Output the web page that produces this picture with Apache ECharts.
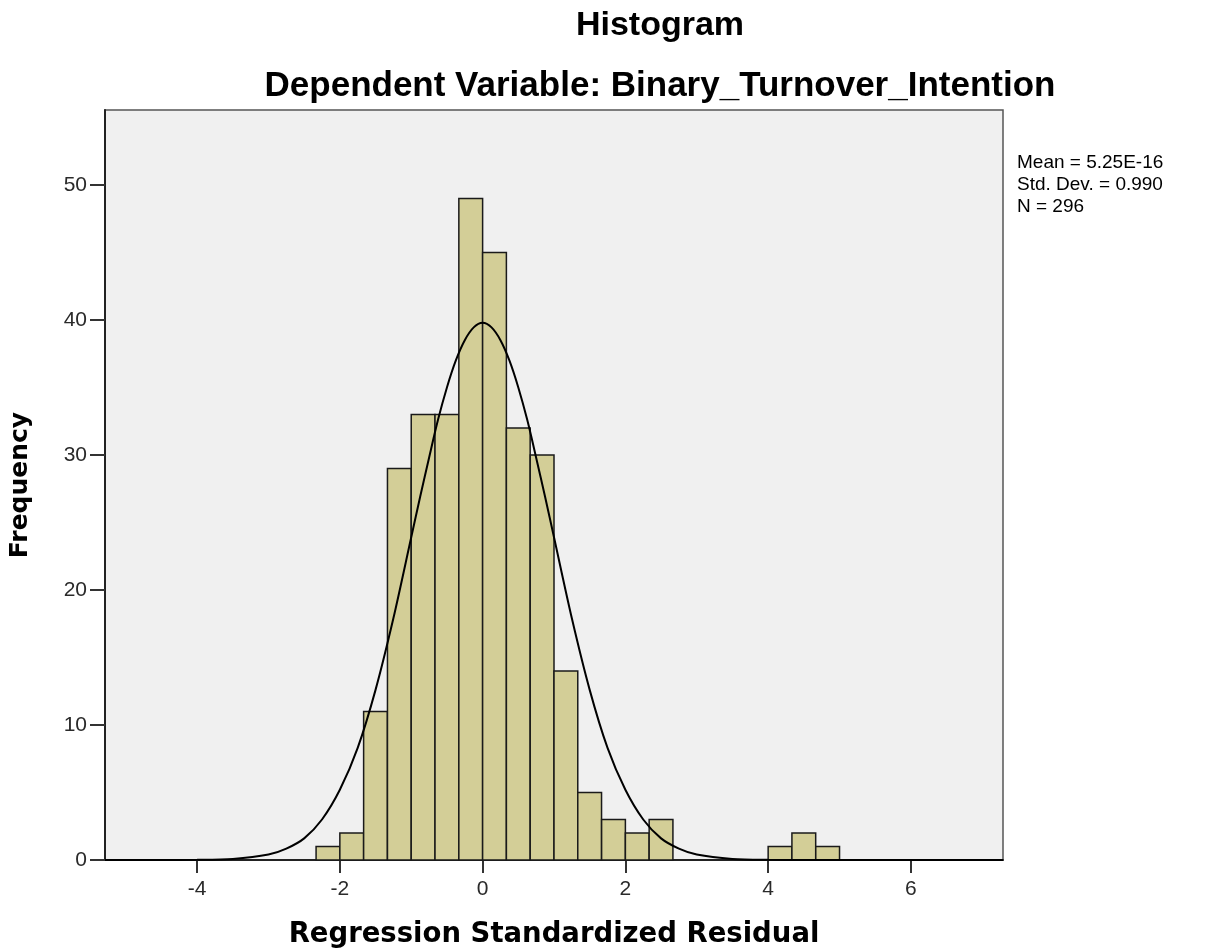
<!DOCTYPE html>
<html>
<head>
    <meta charset="utf-8">
    <title>Histogram</title>
    <style>
        html, body { margin: 0; padding: 0; background: #fff; }
    </style>
</head>
<body>
    <div id="main" style="width: 1215px;height:952px;"></div>
    <script src="https://cdn.jsdelivr.net/npm/echarts@6/dist/echarts.min.js" charset="utf-8"></script>
    <script>
    // bins (left edge) and counts
    var binStart = [-2.333, -2, -1.667, -1.333, -1, -0.667, -0.333, 0, 0.333, 0.667, 1, 1.333, 1.667, 2, 2.333, 4, 4.333, 4.667];
    var binWidth = 0.333;
    var counts = [1, 2, 11, 29, 33, 33, 49, 45, 32, 30, 14, 5, 3, 2, 3, 1, 2, 1];

    // normal curve
    var curveX = [-5.29, -4.5, -4, -3.5, -3, -2.75, -2.5, -2.25, -2, -1.75, -1.5, -1.25, -1, -0.875, -0.75, -0.625, -0.5, -0.375, -0.25, -0.125, 0,
                  0.125, 0.25, 0.375, 0.5, 0.625, 0.75, 0.875, 1, 1.25, 1.5, 1.75, 2, 2.25, 2.5, 2.75, 3, 3.5, 4, 4.5, 5, 6, 7.29];
    var curveY = [0, 0, 0.01, 0.08, 0.4, 0.84, 1.6, 3.0, 5.2, 8.3, 12.6, 17.9, 23.9, 26.9, 29.8, 32.6, 35.0, 37.0, 38.5, 39.45, 39.8,
                  39.45, 38.5, 37.0, 35.0, 32.6, 29.8, 26.9, 23.9, 17.9, 12.6, 8.3, 5.2, 3.0, 1.6, 0.84, 0.4, 0.08, 0.01, 0, 0, 0, 0];

    var xTicks = [-4, -2, 0, 2, 4, 6];
    var yTicks = [0, 10, 20, 30, 40, 50];
    var statLines = ['Mean = 5.25E-16', 'Std. Dev. = 0.990', 'N = 296'];

    var barData = binStart.map(function (s, i) { return [s, s + binWidth, counts[i]]; });
    var lineData = curveX.map(function (x, i) { return [x, curveY[i]]; });

    var myChart = echarts.init(document.getElementById('main'));
    var option = {
        animation: false,
        backgroundColor: '#ffffff',
        grid: {
            left: 105, right: 212, top: 110, bottom: 92,
            outerBoundsMode: 'none',
            containLabel: false,
            show: true,
            backgroundColor: '#f0f0f0',
            borderColor: '#555555',
            borderWidth: 1.5
        },
        graphic: [
            {
                type: 'text', x: 660, y: 26,
                style: { text: 'Histogram', fill: '#000', font: 'bold 34px "Liberation Sans", Arial', textAlign: 'center', textVerticalAlign: 'middle' }
            },
            {
                type: 'text', x: 660, y: 86,
                style: { text: 'Dependent Variable: Binary_Turnover_Intention', fill: '#000', font: 'bold 35px "Liberation Sans", Arial', textAlign: 'center', textVerticalAlign: 'middle' }
            },
            {
                type: 'text', x: 1017, y: 152,
                style: { text: statLines.join('\n'), fill: '#000', font: '19px "Liberation Sans", Arial', lineHeight: 22 }
            }
        ],
        xAxis: {
            type: 'value',
            min: -5.29, max: 7.29,
            name: 'Regression Standardized Residual',
            nameLocation: 'middle',
            nameGap: 61,
            nameTextStyle: { fontFamily: 'DejaVu Sans', fontWeight: 'bold', fontSize: 27.5, color: '#000' },
            axisLine: { show: true, onZero: false, lineStyle: { color: '#222', width: 2 } },
            axisTick: { show: true, customValues: xTicks, length: 13, lineStyle: { color: '#333', width: 2 } },
            axisLabel: { customValues: xTicks, fontFamily: '"Liberation Sans", Arial', fontSize: 21, color: '#2a2a2a', margin: 19 },
            splitLine: { show: false }
        },
        yAxis: {
            type: 'value',
            min: 0, max: 55.55,
            name: 'Frequency',
            nameLocation: 'middle',
            nameGap: 72,
            nameRotate: 90,
            nameTextStyle: { fontFamily: 'DejaVu Sans', fontWeight: 'bold', fontSize: 25, color: '#000' },
            axisLine: { show: true, onZero: false, lineStyle: { color: '#222', width: 2 } },
            axisTick: { show: true, customValues: yTicks, length: 15, lineStyle: { color: '#333', width: 2 } },
            axisLabel: { customValues: yTicks, fontFamily: '"Liberation Sans", Arial', fontSize: 21, color: '#2a2a2a', margin: 18 },
            splitLine: { show: false }
        },
        series: [
            {
                type: 'custom',
                data: barData,
                renderItem: function (params, api) {
                    var p0 = api.coord([api.value(0), api.value(2)]);
                    var p1 = api.coord([api.value(1), 0]);
                    return {
                        type: 'rect',
                        shape: { x: p0[0], y: p0[1], width: p1[0] - p0[0], height: p1[1] - p0[1] },
                        style: { fill: '#d3ce97', stroke: '#1a1a1a', lineWidth: 1.5 }
                    };
                },
                z: 2
            },
            {
                type: 'line',
                data: lineData,
                smooth: 0.3,
                showSymbol: false,
                lineStyle: { color: '#000', width: 2 },
                z: 3
            }
        ]
    };
    myChart.setOption(option);
    </script>
</body>
</html>
